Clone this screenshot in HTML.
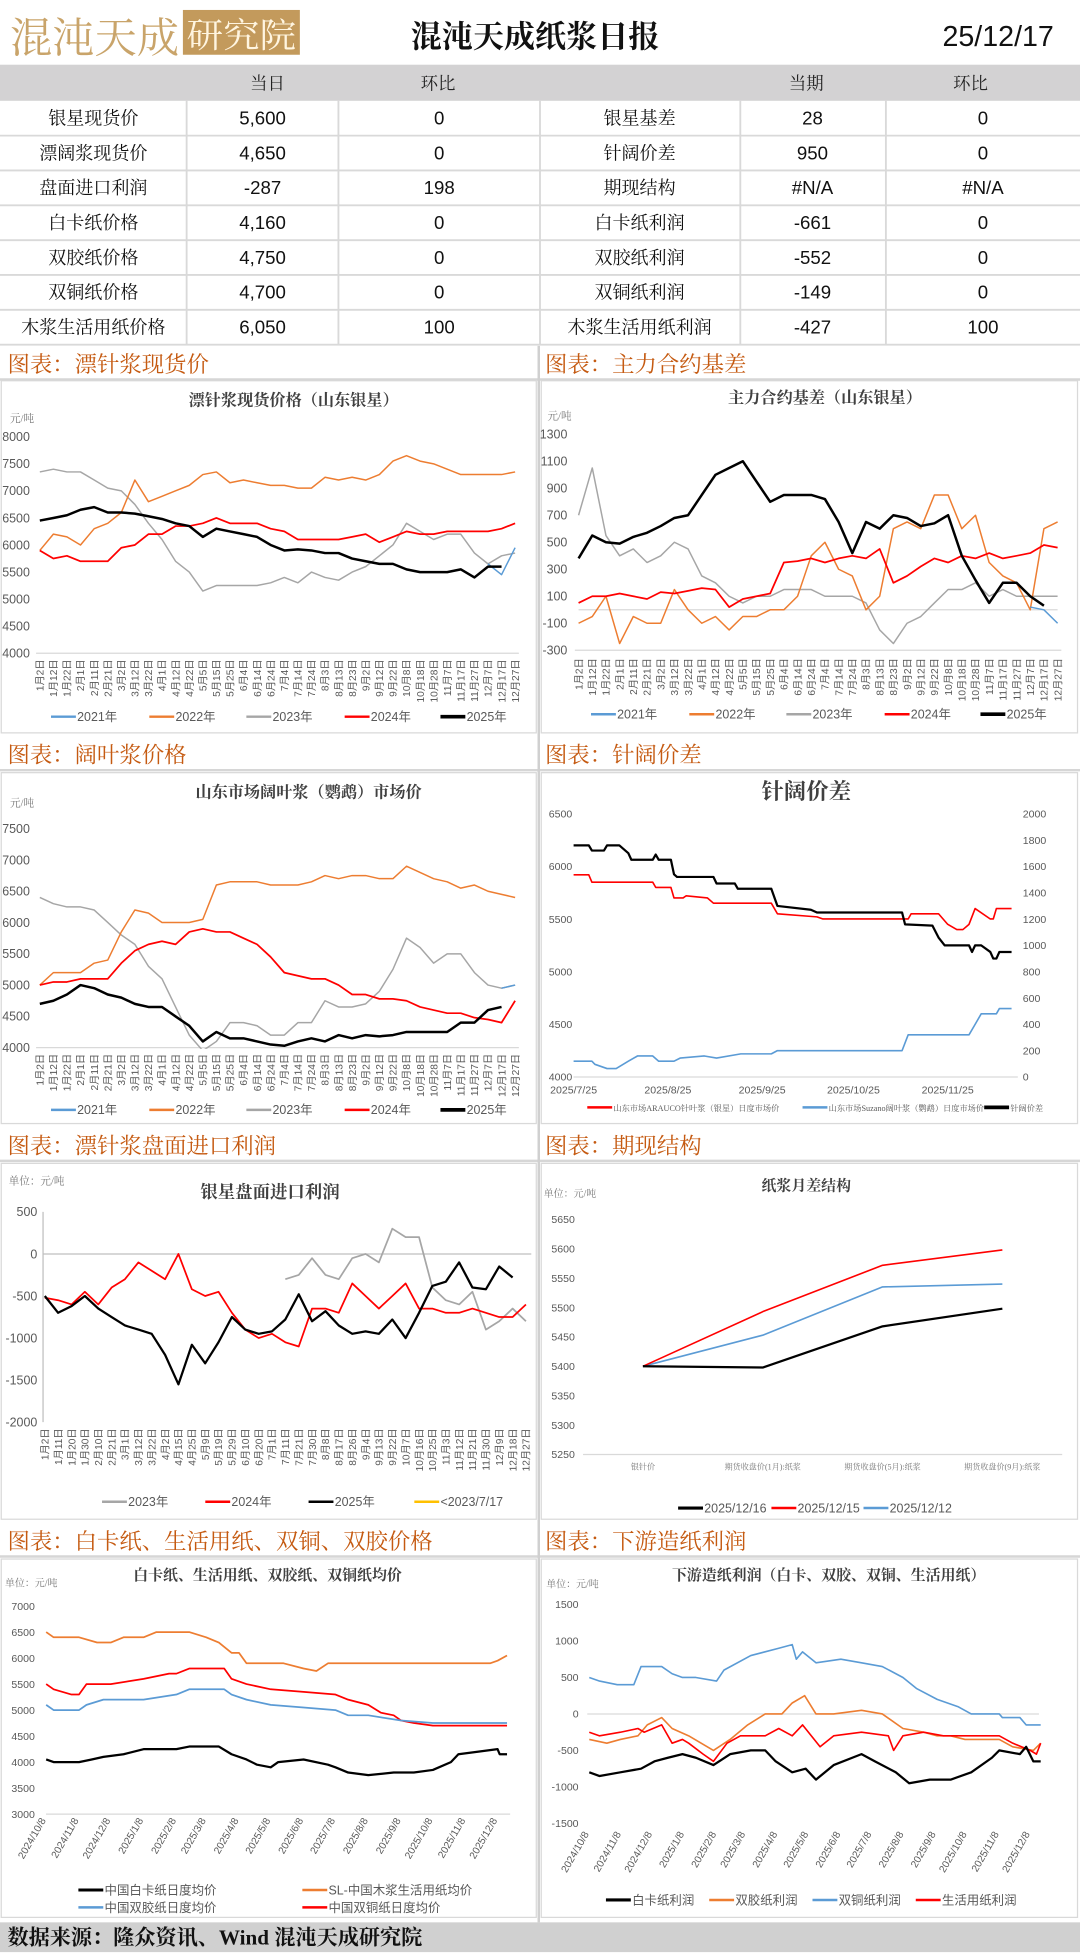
<!DOCTYPE html>
<html><head><meta charset="utf-8">
<style>
html,body{margin:0;padding:0;background:#fff;width:1080px;height:1952px;overflow:hidden}
#wrap{position:absolute;left:0;top:0;width:868px;height:1569px;transform:scale(1.24424);transform-origin:0 0}
svg text{font-family:"Liberation Sans","Noto Sans CJK SC",sans-serif}
.cn{font-family:"Liberation Serif","Noto Serif CJK SC",serif}
</style></head>
<body>
<div id="wrap">
<svg id="s" width="868" height="1569" viewBox="0 0 868 1569" xmlns="http://www.w3.org/2000/svg">
<defs>
<clipPath id="c1"><rect x="28" y="340" width="392" height="186"/></clipPath>
<clipPath id="c2"><rect x="460" y="340" width="395" height="184"/></clipPath>
<clipPath id="c3"><rect x="28" y="655" width="392" height="188"/></clipPath>
</defs>
<rect x="0" y="0" width="868" height="1569" fill="#fff"/>
<g>
<text x="8" y="42" font-size="34" fill="#c9a46a" class="cn" textLength="136" lengthAdjust="spacingAndGlyphs">混沌天成</text>
<rect x="147" y="8" width="94" height="36" fill="#c39a5c"/>
<text x="150" y="38" font-size="28" fill="#fff5e0" class="cn" textLength="88" lengthAdjust="spacingAndGlyphs">研究院</text>
</g>
<text x="430" y="38" text-anchor="middle" font-size="25" font-weight="bold" fill="#111" class="cn">混沌天成纸浆日报</text>
<text x="847" y="37" text-anchor="end" font-size="23" fill="#111">25/12/17</text>
<rect x="0" y="52" width="868" height="29" fill="#d3d2d3"/>
<g id="table"></g>
<g id="charts"></g>
<rect x="0" y="1545" width="868" height="24" fill="#d0d0d0"/>
<text x="6" y="1563" font-size="17" font-weight="bold" fill="#111" class="cn">数据来源：隆众资讯、Wind  混沌天成研究院</text>
</svg>
</div>
<script>
const NS="http://www.w3.org/2000/svg";
const tableHeadL=["当日","环比"];
const tableHeadR=["当期","环比"];
const tableNamesL=["银星现货价","漂阔浆现货价","盘面进口利润","白卡纸价格","双胶纸价格","双铜纸价格","木浆生活用纸价格"];
const tableValsL=["5,600","4,650","-287","4,160","4,750","4,700","6,050"];
const tableChgL=["0","0","198","0","0","0","100"];
const tableNamesR=["银星基差","针阔价差","期现结构","白卡纸利润","双胶纸利润","双铜纸利润","木浆生活用纸利润"];
const tableValsR=["28","950","#N/A","-661","-552","-149","-427"];
const tableChgR=["0","0","#N/A","0","0","0","100"];

const c1Dates=["1月2日","1月12日","1月22日","2月1日","2月11日","2月21日","3月2日","3月12日","3月22日","4月1日","4月12日","4月22日","5月5日","5月15日","5月25日","6月4日","6月14日","6月24日","7月4日","7月14日","7月24日","8月3日","8月13日","8月23日","9月2日","9月12日","9月22日","10月8日","10月18日","10月28日","11月7日","11月17日","11月27日","12月7日","12月17日","12月27日"];
const c1Y2021=[null,null,null,null,null,null,null,null,null,null,null,null,null,null,null,null,null,null,null,null,null,null,null,null,null,null,null,null,null,null,null,null,null,5650,5450,5950];
const c1Y2022=[5900,6200,6150,6000,6300,6400,6600,7200,6800,6900,7000,7100,7300,7350,7150,7200,7150,7100,7100,7050,7050,7250,7200,7250,7200,7300,7550,7650,7550,7500,7400,7300,7300,7300,7300,7350];
const c1Y2023=[7350,7400,7350,7350,7200,7050,7000,6750,6400,6100,5700,5500,5150,5250,5250,5250,5250,5300,5400,5300,5500,5400,5350,5500,5600,5800,6000,6400,6250,6100,6200,6200,5850,5650,5800,5850];
const c1Y2024=[5900,5750,5800,5700,5700,5700,5950,6000,6200,6200,6350,6350,6400,6500,6400,6400,6400,6300,6250,6100,6100,6100,6100,6150,6200,6050,6150,6250,6200,6200,6250,6250,6250,6250,6300,6400];
const c1Y2025=[6450,6500,6550,6650,6700,6600,6600,6580,6530,6480,6400,6350,6150,6300,6250,6200,6150,6000,5900,5920,5900,5850,5850,5750,5700,5650,5650,5550,5500,5500,5500,5550,5400,5600,5600,null];
const c1Ticks=[4000,4500,5000,5500,6000,6500,7000,7500,8000];

const c2Y2021=[null,null,null,null,null,null,null,null,null,null,null,null,null,null,null,null,null,null,null,null,null,null,null,null,null,null,null,null,null,null,null,null,null,20,0,-100];
const c2Y2022=[-100,-50,100,-250,-50,-100,-100,150,0,-100,-50,-150,-50,-50,0,0,100,400,500,300,250,0,100,600,650,600,850,850,600,700,350,250,200,0,600,650];
const c2Y2023=[700,1050,550,400,450,350,400,500,450,250,200,100,50,100,100,150,150,150,100,100,100,50,-150,-250,-100,-50,50,150,150,200,100,150,100,100,100,100];
const c2Y2024=[50,100,100,120,100,80,130,120,140,160,150,20,80,100,120,350,360,380,350,380,400,380,450,200,250,320,380,350,400,380,420,380,400,420,480,460];
const c2Y2025=[380,550,500,490,540,570,620,680,700,850,1000,1050,1100,950,800,850,850,850,820,650,420,650,600,700,680,620,640,700,400,220,50,200,200,100,30,null];
const c2Ticks=[-300,-100,100,300,500,700,900,1100,1300];

const c3Y2021=[null,null,null,null,null,null,null,null,null,null,null,null,null,null,null,null,null,null,null,null,null,null,null,null,null,null,null,null,null,null,null,null,null,null,4950,5000];
const c3Y2022=[5000,5200,5200,5200,5350,5400,5850,6200,6150,6000,6000,6000,6050,6600,6650,6650,6650,6600,6600,6600,6650,6750,6700,6750,6750,6700,6700,6900,6800,6700,6650,6550,6600,6500,6450,6400];
const c3Y2023=[6400,6300,6250,6250,6200,6000,5800,5650,5300,5100,4650,4200,3950,4100,4400,4400,4350,4200,4200,4400,4400,4750,4650,4650,4700,4900,5250,5750,5600,5350,5500,5500,5200,5000,4950,5000];
const c3Y2024=[5000,5050,5050,5100,5100,5100,5350,5550,5650,5700,5650,5850,5900,5850,5850,5750,5650,5450,5200,5150,5100,5100,5000,4850,4850,4780,4780,4750,4650,4600,4550,4550,4480,4450,4400,4750];
const c3Y2025=[4700,4750,4850,5000,4950,4850,4800,4700,4650,4650,4500,4350,4100,4250,4150,4150,4100,4050,4030,4100,4150,4100,4200,4150,4200,4180,4200,4250,4250,4250,4250,4400,4400,4600,4650,null];
const c3Ticks=[4000,4500,5000,5500,6000,6500,7000,7500];

const c4RedDays=[0,5,6,26,27,32,33,36,37,44,46,65,67,80,82,110,111,120,123,126,128,130,132,137,138,139,144];
const c4RedVals=[5920,5920,5850,5850,5800,5800,5700,5700,5720,5700,5650,5650,5550,5520,5500,5500,5550,5550,5450,5400,5400,5450,5600,5500,5500,5600,5600];
const c4BlueDays=[0,6,7,11,14,18,21,26,28,33,35,43,47,55,65,67,108,110,130,132,134,139,140,144];
const c4BlueVals=[4150,4150,4120,4080,4080,4150,4200,4200,4150,4150,4180,4200,4180,4220,4220,4250,4250,4400,4400,4500,4600,4600,4650,4650];
const c4DiffDays=[0,5,6,10,11,15,18,19,26,27,28,32,33,34,46,47,53,54,65,67,78,80,108,109,118,120,122,130,131,132,134,137,138,139,140,144];
const c4DiffVals=[1760,1760,1720,1720,1760,1760,1700,1650,1650,1690,1650,1650,1540,1520,1520,1470,1470,1430,1430,1300,1270,1250,1250,1160,1150,1060,1000,1000,950,1000,1000,950,900,900,950,950];
const c4XLabels=["2025/7/25","2025/8/25","2025/9/25","2025/10/25","2025/11/25"];
const c4XLabelDays=[0,31,62,92,123];
const c4LTicks=[4000,4500,5000,5500,6000,6500];
const c4RTicks=[0,200,400,600,800,1000,1200,1400,1600,1800,2000];

const c5Dates=["1月2日","1月11日","1月20日","1月30日","2月10日","2月21日","3月1日","3月12日","3月22日","4月2日","4月15日","4月25日","5月9日","5月19日","5月29日","6月10日","6月20日","7月1日","7月11日","7月21日","7月30日","8月8日","8月17日","8月26日","9月4日","9月13日","9月22日","10月7日","10月16日","10月25日","11月3日","11月12日","11月21日","11月30日","12月9日","12月18日","12月27日"];
const c5Y2023=[null,null,null,null,null,null,null,null,null,null,null,null,null,null,null,null,null,null,-300,-250,-50,-250,-300,-50,0,-100,300,200,200,-400,-550,-600,-450,-900,-800,-650,-800];
const c5Y2024=[-520,-550,-600,-450,-600,-400,-300,-100,-200,-300,0,-420,-500,-450,-700,-900,-1000,-950,-1050,-1100,-650,-650,-700,-350,-500,-650,-500,-350,-650,-650,-700,-700,-650,-700,-750,-750,-600];
const c5Y2025=[-500,-700,-620,-500,-650,-750,-850,-900,-950,-1200,-1550,-1080,-1300,-1050,-750,-900,-950,-920,-780,-480,-800,-680,-850,-950,-920,-950,-780,-1000,-700,-380,-330,-100,-400,-420,-150,-280,null];
const c5Ticks=[-2000,-1500,-1000,-500,0,500];

const c6Cats=["银针价","期货收盘价(1月):纸浆","期货收盘价(5月):纸浆","期货收盘价(9月):纸浆"];
const c6D1216=[5400,5398,5468,5498];
const c6D1215=[5400,5493,5572,5598];
const c6D1212=[5400,5453,5535,5540];
const c6Ticks=[5250,5300,5350,5400,5450,5500,5550,5600,5650];

const c7OrangeDays=[0,7,31,48,61,73,92,104,123,135,151,163,175,182,189,212,224,243,255,266,273,304,335,365,396,419,426,435];
const c7OrangeVals=[6500,6400,6400,6300,6300,6400,6400,6500,6500,6500,6400,6300,6100,6100,5900,5900,5900,5800,5750,5900,5900,5900,5900,5900,5900,5900,5950,6050];
const c7RedDays=[0,7,24,31,38,61,92,116,123,135,151,168,175,189,212,243,273,285,304,316,328,335,347,365,435];
const c7RedVals=[5500,5400,5300,5300,5500,5500,5600,5700,5700,5800,5800,5800,5600,5500,5400,5350,5300,5200,5100,4950,4900,4800,4750,4700,4700];
const c7BlueDays=[0,7,31,38,54,92,123,135,151,168,175,189,212,243,273,285,304,335,365,435];
const c7BlueVals=[5100,5000,5000,5100,5200,5200,5300,5400,5400,5400,5300,5200,5100,5050,5000,4900,4900,4800,4750,4750];
const c7BlackDays=[0,7,31,43,54,73,92,123,135,151,163,175,189,199,212,219,243,266,273,285,304,328,347,365,382,389,408,426,428,435];
const c7BlackVals=[4050,4000,4000,4050,4100,4150,4250,4250,4300,4300,4300,4150,4050,3950,3900,4000,4050,3950,3900,3800,3750,3800,3800,3850,4000,4150,4200,4250,4150,4150];
const c7Ticks=[3000,3500,4000,4500,5000,5500,6000,6500,7000];
const monthLabels=["2024/10/8","2024/11/8","2024/12/8","2025/1/8","2025/2/8","2025/3/8","2025/4/8","2025/5/8","2025/6/8","2025/7/8","2025/8/8","2025/9/8","2025/10/8","2025/11/8","2025/12/8"];
const monthDays=[0,31,61,92,123,151,182,212,243,273,304,335,365,396,426];

const c8BlueDays=[0,10,27,43,50,70,80,90,103,123,130,156,183,196,200,206,219,243,263,283,303,316,336,356,369,396,399,416,422,436];
const c8BlueVals=[500,450,400,400,650,650,550,500,500,450,600,800,900,950,750,850,700,750,700,650,500,350,200,100,0,0,-50,-50,-150,-150];
const c8OrangeDays=[0,17,30,47,56,70,80,96,120,136,153,170,186,196,208,219,236,263,283,303,323,336,349,363,396,409,429,436];
const c8OrangeVals=[-350,-400,-350,-300,-150,-50,-200,-300,-500,-350,-150,0,0,150,250,0,0,50,0,-200,-250,-300,-300,-350,-350,-450,-500,-400];
const c8RedDays=[0,10,30,47,53,70,80,90,96,110,120,133,146,156,170,183,196,206,223,236,263,289,294,303,323,342,363,396,409,426,432,436];
const c8RedVals=[-250,-300,-250,-200,-250,-150,-400,-350,-400,-550,-650,-400,-300,-300,-300,-200,-300,-150,-450,-300,-250,-300,-500,-300,-250,-300,-300,-300,-400,-500,-550,-400];
const c8BlackDays=[0,10,30,50,63,76,90,103,120,136,156,170,180,196,209,219,236,263,276,296,309,329,349,369,389,396,416,422,429,436];
const c8BlackVals=[-800,-850,-800,-750,-650,-600,-550,-600,-700,-550,-500,-500,-650,-800,-750,-900,-700,-550,-650,-800,-950,-900,-900,-800,-600,-500,-550,-450,-650,-650];
const c8Ticks=[-1500,-1000,-500,0,500,1000,1500];

const svg=document.getElementById('charts');
function el(tag,attrs,parent){const e=document.createElementNS(NS,tag);for(const k in attrs)e.setAttribute(k,attrs[k]);(parent||svg).appendChild(e);return e;}
function txt(x,y,s,size,fill,anchor,parent,name,extra){
  const t=el('text',Object.assign({x:x,y:y,'font-size':size,fill:fill,'text-anchor':anchor||'start'},extra||{}),parent);
  t.textContent=s;
  
  
  return t;
}
function lineSeries(xs,ys,sx,sy,color,w,name,clip){
  let pts=[];
  for(let i=0;i<ys.length;i++){if(ys[i]===null||ys[i]===undefined)continue;pts.push(sx(xs[i]).toFixed(1)+','+sy(ys[i]).toFixed(1));}
  const p=el('polyline',{points:pts.join(' '),fill:'none',stroke:color,'stroke-width':w,'stroke-linejoin':'round'});
  if(clip)p.setAttribute('clip-path','url(#'+clip+')');
  
  
  return p;
}
function idx(n){return Array.from({length:n},(_,i)=>i);}
function lin(d0,d1,r0,r1){return v=>r0+(v-d0)*(r1-r0)/(d1-d0);}
function legend(x,y,color,label,w,name){
  const l=el('line',{x1:x,y1:y,x2:x+20,y2:y,stroke:color,'stroke-width':w||2});
  
  
  txt(x+21,y+3.5,label,10,'#595959','start',svg,name);
}
function rect(x,y,w,h,fill,stroke,name){
  const r=el('rect',{x:x,y:y,width:w,height:h,fill:fill,stroke:stroke||'none','stroke-width':1});
  
  
  return r;
}

const tb=document.getElementById('table');
const colX=[0,150,272,434,595,712,868];
txt(215,72,tableHeadL[0],14,'#222','middle',tb,'header-today',{class:'cn'});
txt(352,72,tableHeadL[1],14,'#222','middle',tb,'header-change-left',{class:'cn'});
txt(648,72,tableHeadR[0],14,'#222','middle',tb,'header-period',{class:'cn'});
txt(780,72,tableHeadR[1],14,'#222','middle',tb,'header-change-right',{class:'cn'});
for(let r=0;r<7;r++){
  const y0=81+r*28;
  const ln=el('line',{x1:0,y1:y0+28,x2:868,y2:y0+28,stroke:'#d9d9d9','stroke-width':1.5},tb);
  
  
  const cy=y0+19;
  txt(75,cy,tableNamesL[r],14.5,'#111','middle',tb,'metric-name-left',{class:'cn'});
  txt(211,cy,tableValsL[r],15,'#111','middle',tb,'metric-value-left');
  txt(353,cy,tableChgL[r],15,'#111','middle',tb,'metric-change-left');
  txt(514,cy,tableNamesR[r],14.5,'#111','middle',tb,'metric-name-right',{class:'cn'});
  txt(653,cy,tableValsR[r],15,'#111','middle',tb,'metric-value-right');
  txt(790,cy,tableChgR[r],15,'#111','middle',tb,'metric-change-right');
}
for(let c=1;c<6;c++){
  const v=el('line',{x1:colX[c],y1:81,x2:colX[c],y2:277,stroke:'#d9d9d9','stroke-width':1.5},tb);
  
  
}

const secs=[[278,"图表：漂针浆现货价","图表：主力合约基差"],[592,"图表：阔叶浆价格","图表：针阔价差"],[906,"图表：漂针浆盘面进口利润","图表：期现结构"],[1224,"图表：白卡纸、生活用纸、双铜、双胶价格","图表：下游造纸利润"]];
const panelY=[[305,590],[620,904],[934,1222],[1252,1542]];
for(let i=0;i<4;i++){
  const y=secs[i][0];
  txt(6,y+21,secs[i][1],18,'#c55a11','start',svg,'section-title-left',{class:'cn'});
  txt(438,y+21,secs[i][2],18,'#c55a11','start',svg,'section-title-right',{class:'cn'});
  const hl=el('line',{x1:0,y1:y+27,x2:868,y2:y+27,stroke:'#d6d6d6','stroke-width':2});
  
  
  rect(1,panelY[i][0]+1,430,panelY[i][1]-panelY[i][0]-2,'none','#d9d9d9','chart-panel-left');
  rect(435,panelY[i][0]+1,431,panelY[i][1]-panelY[i][0]-2,'none','#d9d9d9','chart-panel-right');
}
const vdiv=el('line',{x1:433,y1:278,x2:433,y2:1545,stroke:'#d0d0d0','stroke-width':2});



function yearly(cfg){
  const sx=lin(0,cfg.n-1,cfg.x0,cfg.x1), sy=lin(cfg.ymin,cfg.ymax,cfg.yb,cfg.yt);
  txt(cfg.tx,cfg.ty,cfg.title,13,'#404040','middle',svg,cfg.name+'-title',{class:'cn','font-weight':'bold'});
  txt(cfg.ux,cfg.uy,cfg.unit,8.5,'#777','start',svg,cfg.name+'-unit',{class:'cn'});
  cfg.ticks.forEach(t=>txt(cfg.lx,sy(t)+3.5,String(t),10,'#595959','end',svg,cfg.name+'-y-tick'));
  if(cfg.zero!==undefined){const z=el('line',{x1:cfg.x0,y1:sy(cfg.zero),x2:cfg.x1,y2:sy(cfg.zero),stroke:'#d9d9d9','stroke-width':1});}
  const base=el('line',{x1:cfg.x0-3,y1:cfg.yb,x2:cfg.x1+3,y2:cfg.yb,stroke:'#d9d9d9','stroke-width':1});
  
  
  cfg.labels.forEach((l,i)=>txt(0,0,l,8.2,'#595959','end',svg,cfg.name+'-x-tick',{transform:'translate('+(sx(i)+3).toFixed(1)+','+cfg.ly+') rotate(-90)'}));
  cfg.series.forEach(s=>lineSeries(idx(cfg.n),s.v,sx,sy,s.c,s.w,s.name,cfg.clip));
  cfg.legend.forEach(l=>legend(l.x,cfg.legY,l.c,l.t,l.w,cfg.name+'-legend-entry'));
}
yearly({name:'softwood-spot',n:36,x0:32,x1:414,ymin:4000,ymax:8000,yb:525,yt:351,title:'漂针浆现货价格（山东银星）',tx:236,ty:326,unit:'元/吨',ux:8,uy:339,lx:24,ticks:c1Ticks,labels:c1Dates,ly:530,clip:'c1',
 series:[{v:c1Y2023,c:'#a6a6a6',w:1.2,name:'series-2023'},{v:c1Y2022,c:'#ed7d31',w:1.2,name:'series-2022'},{v:c1Y2024,c:'#ff0000',w:1.4,name:'series-2024'},{v:c1Y2021,c:'#5b9bd5',w:1.2,name:'series-2021'},{v:c1Y2025,c:'#000',w:2,name:'series-2025'}],
 legY:576,legend:[{x:41,c:'#5b9bd5',t:'2021年'},{x:120,c:'#ed7d31',t:'2022年'},{x:198,c:'#a6a6a6',t:'2023年'},{x:277,c:'#ff0000',t:'2024年'},{x:354,c:'#000',t:'2025年',w:3}]});
yearly({name:'basis',n:36,x0:465,x1:850,ymin:-300,ymax:1300,yb:522.6,yt:349,zero:0,title:'主力合约基差（山东银星）',tx:663,ty:324,unit:'元/吨',ux:440,uy:337,lx:456,ticks:c2Ticks,labels:c1Dates,ly:529,clip:'c2',
 series:[{v:c2Y2023,c:'#a6a6a6',w:1.2,name:'series-2023'},{v:c2Y2022,c:'#ed7d31',w:1.2,name:'series-2022'},{v:c2Y2024,c:'#ff0000',w:1.4,name:'series-2024'},{v:c2Y2021,c:'#5b9bd5',w:1.2,name:'series-2021'},{v:c2Y2025,c:'#000',w:2,name:'series-2025'}],
 legY:574,legend:[{x:475,c:'#5b9bd5',t:'2021年'},{x:554,c:'#ed7d31',t:'2022年'},{x:632,c:'#a6a6a6',t:'2023年'},{x:711,c:'#ff0000',t:'2024年'},{x:788,c:'#000',t:'2025年',w:3}]});
yearly({name:'hardwood-price',n:36,x0:32,x1:414,ymin:4000,ymax:7500,yb:842,yt:666,title:'山东市场阔叶浆（鹦鹉）市场价',tx:248,ty:641,unit:'元/吨',ux:8,uy:648,lx:24,ticks:c3Ticks,labels:c1Dates,ly:847,clip:'c3',
 series:[{v:c3Y2023,c:'#a6a6a6',w:1.2,name:'series-2023'},{v:c3Y2022,c:'#ed7d31',w:1.2,name:'series-2022'},{v:c3Y2024,c:'#ff0000',w:1.4,name:'series-2024'},{v:c3Y2021,c:'#5b9bd5',w:1.2,name:'series-2021'},{v:c3Y2025,c:'#000',w:2,name:'series-2025'}],
 legY:892,legend:[{x:41,c:'#5b9bd5',t:'2021年'},{x:120,c:'#ed7d31',t:'2022年'},{x:198,c:'#a6a6a6',t:'2023年'},{x:277,c:'#ff0000',t:'2024年'},{x:354,c:'#000',t:'2025年',w:3}]});

(function(){
  const sx=lin(0,144,461,813), syL=lin(4000,6500,865.6,654), syR=lin(0,2000,865.6,654);
  txt(648,642,'针阔价差',18,'#404040','middle',svg,'spread-title',{class:'cn','font-weight':'bold'});
  c4LTicks.forEach(t=>txt(441,syL(t)+3,String(t),8.5,'#595959','start',svg,'spread-left-tick'));
  c4RTicks.forEach(t=>txt(822,syR(t)+3,String(t),8.5,'#595959','start',svg,'spread-right-tick'));
  const ax=el('line',{x1:461,y1:865.6,x2:818,y2:865.6,stroke:'#d9d9d9','stroke-width':1});
  
  
  c4XLabels.forEach((l,i)=>txt(sx(c4XLabelDays[i]),879,l,8.5,'#595959','middle',svg,'spread-x-tick'));
  lineSeries(c4RedDays,c4RedVals,sx,syL,'#ff0000',1.3,'arauco-softwood-line');
  lineSeries(c4BlueDays,c4BlueVals,sx,syL,'#5b9bd5',1.3,'suzano-hardwood-line');
  lineSeries(c4DiffDays,c4DiffVals,sx,syR,'#000',1.8,'spread-line');
  const ly=890;
  legend(472,ly,'#ff0000','',2,'spread-legend-arauco');txt(493,ly+3,'山东市场ARAUCO针叶浆（银星）日度市场价',6.6,'#595959','start',svg,'spread-legend-arauco-label',{class:'cn'});
  legend(645,ly,'#5b9bd5','',2,'spread-legend-suzano');txt(666,ly+3,'山东市场Suzano阔叶浆（鹦鹉）日度市场价',6.6,'#595959','start',svg,'spread-legend-suzano-label',{class:'cn'});
  legend(791,ly,'#000','',3,'spread-legend-diff');txt(812,ly+3,'针阔价差',6.6,'#595959','start',svg,'spread-legend-diff-label',{class:'cn'});
})();

(function(){
  const sx=lin(0,36,36,422.7), sy=lin(-2000,500,1143,974);
  txt(217,963,'银星盘面进口利润',14,'#404040','middle',svg,'import-profit-title',{class:'cn','font-weight':'bold'});
  txt(7,952,'单位：元/吨',8.5,'#777','start',svg,'import-profit-unit',{class:'cn'});
  c5Ticks.forEach(t=>txt(30,sy(t)+3.5,String(t),10,'#595959','end',svg,'import-profit-y-tick'));
  const ya=el('line',{x1:34.6,y1:974,x2:34.6,y2:1143,stroke:'#bfbfbf','stroke-width':1});
  
  
  const z=el('line',{x1:34.6,y1:sy(0),x2:427,y2:sy(0),stroke:'#bfbfbf','stroke-width':1});
  
  
  c5Dates.forEach((l,i)=>txt(0,0,l,8.2,'#595959','end',svg,'import-profit-x-tick',{transform:'translate('+(sx(i)+3).toFixed(1)+',1148) rotate(-90)'}));
  lineSeries(idx(37),c5Y2023,sx,sy,'#a6a6a6',1.4,'series-2023');
  lineSeries(idx(37),c5Y2024,sx,sy,'#ff0000',1.4,'series-2024');
  lineSeries(idx(37),c5Y2025,sx,sy,'#000',1.8,'series-2025');
  legend(82,1207,'#a6a6a6','2023年',2,'import-profit-legend-2023');
  legend(165,1207,'#ff0000','2024年',2,'import-profit-legend-2024');
  legend(248,1207,'#000','2025年',2,'import-profit-legend-2025');
  legend(333,1207,'#ffc000','<2023/7/17',2,'import-profit-legend-2023-7-17');
})();

(function(){
  const bw=(853.7-468.6)/4, sx=i=>468.6+bw*(i+0.5), sy=lin(5250,5650,1169,980);
  txt(648,957,'纸浆月差结构',12,'#404040','middle',svg,'structure-title',{class:'cn','font-weight':'bold'});
  txt(437,962,'单位：元/吨',8,'#777','start',svg,'structure-unit',{class:'cn'});
  c6Ticks.forEach(t=>txt(462,sy(t)+3,String(t),8.5,'#595959','end',svg,'structure-y-tick'));
  const ax=el('line',{x1:468.6,y1:1169,x2:853.7,y2:1169,stroke:'#d9d9d9','stroke-width':1});
  
  
  c6Cats.forEach((c,i)=>txt(sx(i),1181,c,6.5,'#777','middle',svg,'structure-x-tick',{class:'cn'}));
  lineSeries(idx(4),c6D1212,sx,sy,'#5b9bd5',1.3,'series-2025-12-12');
  lineSeries(idx(4),c6D1215,sx,sy,'#ff0000',1.3,'series-2025-12-15');
  lineSeries(idx(4),c6D1216,sx,sy,'#000',1.8,'series-2025-12-16');
  legend(545,1212,'#000','2025/12/16',2.5,'structure-legend-1216');
  legend(620,1212,'#ff0000','2025/12/15',2,'structure-legend-1215');
  legend(694,1212,'#5b9bd5','2025/12/12',2,'structure-legend-1212');
})();

(function(){
  const sx=lin(0,426,37.1,37.1+426*0.8516), sy=lin(3000,7000,1458,1290.8);
  txt(215,1270,'白卡纸、生活用纸、双胶纸、双铜纸均价',12,'#404040','middle',svg,'paper-price-title',{class:'cn','font-weight':'bold'});
  txt(4,1275,'单位：元/吨',8,'#777','start',svg,'paper-price-unit',{class:'cn'});
  c7Ticks.forEach(t=>txt(28,sy(t)+3,String(t),8.5,'#595959','end',svg,'paper-price-y-tick'));
  const ax=el('line',{x1:37,y1:1458,x2:410,y2:1458,stroke:'#d9d9d9','stroke-width':1});
  
  
  monthLabels.forEach((l,i)=>txt(0,0,l,8.2,'#595959','end',svg,'paper-price-x-tick',{transform:'translate('+sx(monthDays[i]).toFixed(1)+',1463) rotate(-60)'}));
  lineSeries(c7OrangeDays,c7OrangeVals,sx,sy,'#ed7d31',1.4,'tissue-price-line');
  lineSeries(c7RedDays,c7RedVals,sx,sy,'#ff0000',1.4,'coated-price-line');
  lineSeries(c7BlueDays,c7BlueVals,sx,sy,'#5b9bd5',1.4,'offset-price-line');
  lineSeries(c7BlackDays,c7BlackVals,sx,sy,'#000',1.8,'ivory-board-price-line');
  legend(63,1519,'#000','中国白卡纸日度均价',2.5,'paper-price-legend-ivory');
  legend(243,1519,'#ed7d31','SL-中国木浆生活用纸均价',2,'paper-price-legend-tissue');
  legend(63,1533,'#5b9bd5','中国双胶纸日度均价',2,'paper-price-legend-offset');
  legend(243,1533,'#ff0000','中国双铜纸日度均价',2,'paper-price-legend-coated');
})();

(function(){
  const sx=lin(0,426,473.6,473.6+426*0.832), sy=lin(-1500,1500,1465.5,1289.5);
  txt(666,1270,'下游造纸利润（白卡、双胶、双铜、生活用纸）',12,'#404040','middle',svg,'paper-profit-title',{class:'cn','font-weight':'bold'});
  txt(439,1276,'单位：元/吨',8,'#777','start',svg,'paper-profit-unit',{class:'cn'});
  c8Ticks.forEach(t=>txt(465,sy(t)+3,String(t),8.5,'#595959','end',svg,'paper-profit-y-tick'));
  const z=el('line',{x1:472,y1:sy(0),x2:835,y2:sy(0),stroke:'#d9d9d9','stroke-width':1});
  
  
  monthLabels.forEach((l,i)=>txt(0,0,l,8.2,'#595959','end',svg,'paper-profit-x-tick',{transform:'translate('+sx(monthDays[i]).toFixed(1)+',1474) rotate(-60)'}));
  lineSeries(c8BlueDays,c8BlueVals,sx,sy,'#5b9bd5',1.3,'coated-profit-line');
  lineSeries(c8OrangeDays,c8OrangeVals,sx,sy,'#ed7d31',1.3,'offset-profit-line');
  lineSeries(c8RedDays,c8RedVals,sx,sy,'#ff0000',1.3,'tissue-profit-line');
  lineSeries(c8BlackDays,c8BlackVals,sx,sy,'#000',1.8,'ivory-board-profit-line');
  legend(487,1527,'#000','白卡纸利润',2.5,'paper-profit-legend-ivory');
  legend(570,1527,'#ed7d31','双胶纸利润',2,'paper-profit-legend-offset');
  legend(653,1527,'#5b9bd5','双铜纸利润',2,'paper-profit-legend-coated');
  legend(736,1527,'#ff0000','生活用纸利润',2,'paper-profit-legend-tissue');
})();
</script>
</body></html>
